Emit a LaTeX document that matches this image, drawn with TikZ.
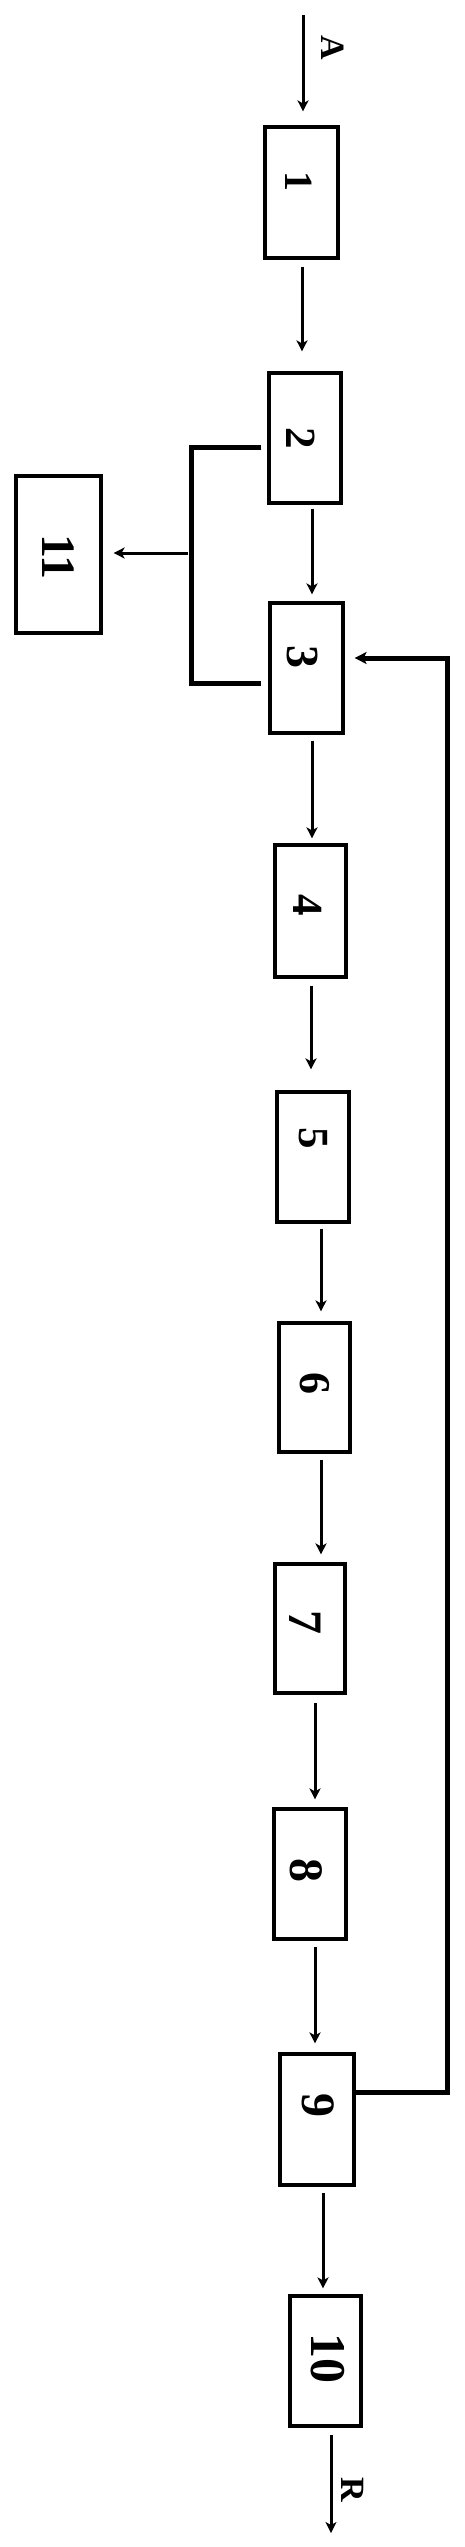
\documentclass[tikz,border=0pt]{standalone}
\usepackage{fontspec}
\setmainfont{Liberation Serif}
\usetikzlibrary{arrows.meta,calc}
\newcommand\fs[1]{\fontsize{#1}{#1}\selectfont\bfseries}
\begin{document}
\begin{tikzpicture}[x=1pt,y=-1pt,
  box/.style={draw,line width=3.2pt,rectangle,inner sep=0pt},
  lab/.style={rotate=-90,inner sep=0pt,anchor=center},
  arr/.style={line width=3pt,-{Stealth[length=11pt,width=11pt,inset=3pt]}},
  thk/.style={line width=5pt},
  thkarr/.style={line width=5pt,-{Stealth[length=12pt,width=12pt,inset=3pt]}}]
\useasboundingbox (0,0) rectangle (464,2547);
% boxes
\node[box,minimum width=73pt,minimum height=131pt] (b1) at (301.5,192.5) {};
\node[box,minimum width=72pt,minimum height=130pt] (b2) at (305,438) {};
\node[box,minimum width=73pt,minimum height=130pt] (b3) at (306.5,668) {};
\node[box,minimum width=85pt,minimum height=157pt] (b11) at (58.5,554.5) {};
\node[box,minimum width=71pt,minimum height=132pt] (b4) at (310.5,911) {};
\node[box,minimum width=72pt,minimum height=130pt] (b5) at (313,1157) {};
\node[box,minimum width=71pt,minimum height=129pt] (b6) at (314.5,1387.5) {};
\node[box,minimum width=70pt,minimum height=129pt] (b7) at (310,1628.5) {};
\node[box,minimum width=72pt,minimum height=130pt] (b8) at (310,1874) {};
\node[box,minimum width=74pt,minimum height=131pt] (b9) at (317,2119.5) {};
\node[box,minimum width=71pt,minimum height=130pt] (b10) at (325.5,2361) {};
% labels
\node[lab] (t1) at (299,182) {\fs{40}1};
\node[lab] (t2) at (301,438) {\fs{43}2};
\node[lab] (t3) at (302,657) {\fs{46}3};
\node[lab] (t11) at (58,557) {\fs{48}11};
\node[lab] (t4) at (308,905) {\fs{43}4};
\node[lab] (t5) at (313,1138) {\fs{43}5};
\node[lab] (t6) at (315,1383) {\fs{44}6};
\node[lab] (t7) at (305,1622) {\fs{48}7};
\node[lab] (t8) at (306,1870) {\fs{48}8};
\node[lab] (t9) at (318,2105) {\fs{48}9};
\node[lab] (t10) at (328,2358) {\fs{50}10};
\node[lab] (tA) at (333,48) {\fs{34}A};
\node[lab] (tR) at (353,2490) {\fs{34}R};
% input / output
\coordinate (inA) at (303,15);
\coordinate (outR) at (331,2533);
\draw[arr] (inA) -- ([xshift=1.5pt,yshift=14pt]b1.north);
\draw[arr] ([xshift=0.5pt,yshift=-7pt]b1.south) -- ([xshift=-3pt,yshift=20pt]b2.north);
\draw[arr] ([xshift=7pt,yshift=-4pt]b2.south) -- ([xshift=5.5pt,yshift=7pt]b3.north);
\draw[arr] ([xshift=5.5pt,yshift=-6pt]b3.south) -- ([xshift=1.5pt,yshift=5pt]b4.north);
\draw[arr] ([xshift=0.5pt,yshift=-7pt]b4.south) -- ([xshift=-2pt,yshift=21pt]b5.north);
\draw[arr] ([xshift=8pt,yshift=-5pt]b5.south) -- ([xshift=6.5pt,yshift=10pt]b6.north);
\draw[arr] ([xshift=6.5pt,yshift=-6pt]b6.south) -- ([xshift=11pt,yshift=8pt]b7.north);
\draw[arr] ([xshift=5pt,yshift=-8pt]b7.south) -- ([xshift=5pt,yshift=8pt]b8.north);
\draw[arr] ([xshift=5pt,yshift=-6pt]b8.south) -- ([xshift=-2pt,yshift=9pt]b9.north);
\draw[arr] ([xshift=6pt,yshift=-6pt]b9.south) -- ([xshift=-2.5pt,yshift=6pt]b10.north);
\draw[arr] ([xshift=5.5pt,yshift=-7pt]b10.south) -- (outR);
% bracket to 11
\coordinate (jn) at (191,553);
\draw[thk] ([xshift=-6pt,yshift=-9pt]b2.west) -| (jn) |- ([xshift=-7pt,yshift=-15pt]b3.west);
\draw[arr] ([xshift=-3pt]jn) -- ([xshift=11pt,yshift=1.5pt]b11.east);
% feedback 9 -> 3
\coordinate (fb) at (447,2092);
\draw[thkarr] ([yshift=27.5pt]b9.east) -- (fb) |- ([xshift=10pt,yshift=10pt]b3.east);
\end{tikzpicture}
\end{document}
